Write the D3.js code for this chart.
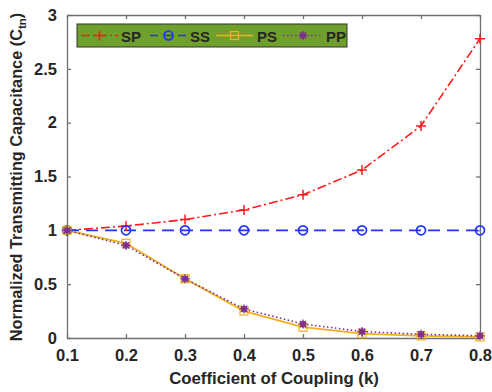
<!DOCTYPE html>
<html>
<head>
<meta charset="utf-8">
<script src="https://cdn.jsdelivr.net/npm/d3@7"></script>
<style>
  body { margin: 0; background: #fff; }
  svg text { font-family: "Liberation Sans", Arial, sans-serif; font-weight: bold; fill: #262626; }
</style>
</head>
<body>
<svg width="492" height="392"></svg>
<script>
// data
const ks = [0.1, 0.2, 0.3, 0.4, 0.5, 0.6, 0.7, 0.8];
const sp = [1, 1.04, 1.1, 1.19, 1.33, 1.56, 1.97, 2.78];
const ss = [1, 1, 1, 1, 1, 1, 1, 1];
const ps = [1, 0.88, 0.55, 0.25, 0.1, 0.04, 0.02, 0.01];
const pp = [1, 0.86, 0.55, 0.27, 0.13, 0.06, 0.035, 0.02];
const seriesNames = ['SP', 'SS', 'PS', 'PP'];
const yTicks = [0, 0.5, 1, 1.5, 2, 2.5, 3];

const styles = {
  SP: {color: '#ff1a1a', dash: '9,3,2,3', marker: 'plus'},
  SS: {color: '#2233ff', dash: '12,7', marker: 'circle'},
  PS: {color: '#f0b020', dash: null, marker: 'square'},
  PP: {color: '#7e2f8e', dash: '1.5,2.5', marker: 'star'}
};

const M = {left: 67, right: 480, top: 15, bottom: 338};
const svg = d3.select('svg');
const x = d3.scaleLinear().domain([0.1, 0.8]).range([M.left, M.right]);
const y = d3.scaleLinear().domain([0, 3]).range([M.bottom, M.top]);

const series = [sp, ss, ps, pp].map((v, i) => ({name: seriesNames[i], pts: ks.map((k, j) => ({k: k, v: v[j]}))}));

// axes
const xAx = svg.append('g').attr('transform', `translate(0,${M.bottom})`)
  .call(d3.axisBottom(x).tickValues(ks).tickSizeInner(-4).tickSizeOuter(0).tickPadding(11).tickFormat(d3.format('.1f')));
const xTop = svg.append('g').attr('transform', `translate(0,${M.top})`)
  .call(d3.axisTop(x).tickValues(ks).tickSizeInner(-4).tickSizeOuter(0).tickFormat(''));
const yAx = svg.append('g').attr('transform', `translate(${M.left},0)`)
  .call(d3.axisLeft(y).tickValues(yTicks).tickSizeInner(-4).tickSizeOuter(0).tickPadding(10).tickFormat(d => d));
const yR = svg.append('g').attr('transform', `translate(${M.right},0)`)
  .call(d3.axisRight(y).tickValues(yTicks).tickSizeInner(-4).tickSizeOuter(0).tickFormat(''));
[xAx, xTop, yAx, yR].forEach(g => {
  g.selectAll('path, line').attr('stroke', '#707070').attr('stroke-width', 1.3);
  g.selectAll('text').attr('font-size', 16.5).attr('fill', '#262626');
});

// lines
const line = d3.line().x(d => x(d.k)).y(d => y(d.v));
svg.selectAll('path.series').data(series).enter().append('path')
  .attr('class', 'series')
  .attr('d', d => line(d.pts))
  .attr('fill', 'none')
  .attr('stroke', d => styles[d.name].color)
  .attr('stroke-width', d => d.name === 'PS' ? 1.8 : 1.6)
  .attr('stroke-dasharray', d => styles[d.name].dash);

function drawMarker(g, kind, color) {
  if (kind === 'plus') {
    g.append('path').attr('d', 'M-5,0H5M0,-5V5').attr('stroke', color).attr('stroke-width', 1.5);
  } else if (kind === 'circle') {
    g.append('circle').attr('r', 4.5).attr('fill', 'none').attr('stroke', color).attr('stroke-width', 1.7);
  } else if (kind === 'square') {
    g.append('rect').attr('x', -4).attr('y', -4).attr('width', 8).attr('height', 8)
      .attr('fill', 'none').attr('stroke', color).attr('stroke-width', 1.2);
  } else {
    g.append('circle').attr('r', 3.2).attr('fill', color).attr('opacity', 0.85);
    g.append('path').attr('d', 'M-4.5,0H4.5M0,-4.5V4.5M-3.2,-3.2L3.2,3.2M-3.2,3.2L3.2,-3.2')
      .attr('stroke', color).attr('stroke-width', 1.2);
  }
}

series.forEach(s => {
  svg.selectAll(null).data(s.pts).enter().append('g')
    .attr('transform', d => `translate(${x(d.k)},${y(d.v)})`)
    .each(function () { drawMarker(d3.select(this), styles[s.name].marker, styles[s.name].color); });
});

// legend
const leg = svg.append('g').attr('transform', 'translate(77,24)');
leg.append('rect').attr('width', 270).attr('height', 23)
  .attr('fill', '#6fa02c').attr('stroke', '#333').attr('stroke-width', 1);
const legX = [4, 73, 139, 206];
seriesNames.forEach((n, i) => {
  const st = styles[n];
  const len = n === 'PP' ? 40 : 37;
  const g = leg.append('g').attr('transform', `translate(${legX[i]},11.5)`);
  g.append('line').attr('x1', 0).attr('x2', len).attr('stroke', st.color).attr('stroke-width', 1.6)
    .attr('stroke-dasharray', n === 'SS' ? '8,6' : st.dash);
  const mg = g.append('g').attr('transform', `translate(${len / 2},0)`);
  drawMarker(mg, st.marker, st.color);
  g.append('text').attr('x', n === 'PP' ? 43 : (n === 'PS' ? 41 : 40)).attr('y', 6).attr('font-size', 15).attr('fill', '#111').text(n);
});

// axis titles
svg.append('text').attr('x', 274).attr('y', 384).attr('text-anchor', 'middle')
  .attr('font-size', 16.8).text('Coefficient of Coupling (k)');
const yt = svg.append('text').attr('transform', 'translate(22,177) rotate(-90)').attr('text-anchor', 'middle')
  .attr('font-size', 16.3);
yt.append('tspan').text('Normalized Transmitting Capacitance (C');
yt.append('tspan').attr('font-size', 11.5).attr('dy', 4).text('tn');
yt.append('tspan').attr('dy', -4).text(')');
</script>
</body>
</html>
